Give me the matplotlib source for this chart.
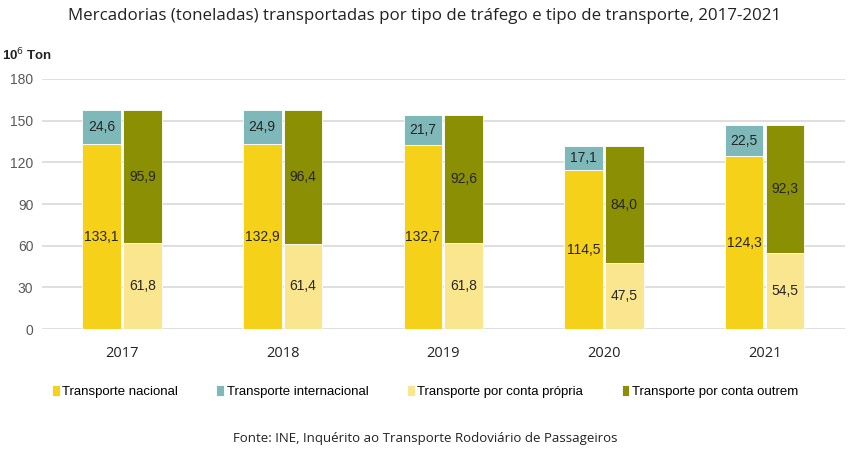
import matplotlib.pyplot as plt
import numpy as np

years = ["2017", "2018", "2019", "2020", "2021"]
nacional = [133.1, 132.9, 132.7, 114.5, 124.3]
internacional = [24.6, 24.9, 21.7, 17.1, 22.5]
propria = [61.8, 61.4, 61.8, 47.5, 54.5]
outrem = [95.9, 96.4, 92.6, 84.0, 92.3]

c_nac = "#F6D11A"
c_int = "#7FB8B9"
c_pro = "#FAE68E"
c_out = "#8B8F04"


def fmt(v):
    return f"{v:.1f}".replace(".", ",")


fig = plt.figure(figsize=(8.5, 4.54), dpi=100)
ax = fig.add_axes([0.049, 0.275, 0.945, 0.551])

x = np.arange(len(years))
w = 0.24
off = 0.127
edge = dict(edgecolor="#FFFFFF", linewidth=0.6)

ax.bar(x - off, nacional, w, color=c_nac, label="Transporte nacional", **edge)
ax.bar(x - off, internacional, w, bottom=nacional, color=c_int,
       label="Transporte internacional", **edge)
ax.bar(x + off, propria, w, color=c_pro, label="Transporte por conta própria", **edge)
ax.bar(x + off, outrem, w, bottom=propria, color=c_out,
       label="Transporte por conta outrem", **edge)

lab = dict(ha="center", va="center", fontsize=10, color="#262626",
           family="Liberation Sans")
for i in range(len(years)):
    ax.text(x[i] - off, nacional[i] / 2, fmt(nacional[i]), **lab)
    ax.text(x[i] - off, nacional[i] + internacional[i] / 2, fmt(internacional[i]), **lab)
    ax.text(x[i] + off, propria[i] / 2, fmt(propria[i]), **lab)
    ax.text(x[i] + off, propria[i] + outrem[i] / 2, fmt(outrem[i]), **lab)

ax.set_xlim(-0.5, len(years) - 0.5)
ax.set_ylim(0, 180)
ax.set_yticks(np.arange(0, 181, 30))
ax.set_xticks(x)
ax.set_xticklabels(years, fontsize=10.5, family="Open Sans", color="#222222")
ax.tick_params(axis="y", labelsize=10, labelcolor="#595959", length=0, pad=6)
ax.tick_params(axis="x", length=0, pad=12)
for lbl in ax.get_yticklabels():
    lbl.set_family("Liberation Sans")
ax.grid(axis="y", color="#D9D9D9", linewidth=1.2)
ax.set_axisbelow(True)
for s in ax.spines.values():
    s.set_visible(False)

ax.text(-0.018, 1.096, "10$^6$ Ton", transform=ax.transAxes, ha="center", va="center",
        fontsize=9.5, fontweight="bold", family="Liberation Sans", color="#222222")

fig.text(0.5, 0.965, "Mercadorias (toneladas) transportadas por tipo de tráfego e tipo de transporte, 2017-2021",
         ha="center", va="center", fontsize=12.2, family="Open Sans", color="#222222")

fig.legend(loc="center", bbox_to_anchor=(0.5, 0.137), ncol=4, frameon=False,
           prop={"family": "Liberation Sans", "size": 9.5},
           handlelength=0.6, handleheight=0.8, handletextpad=0.2, columnspacing=2.9)

fig.text(0.5, 0.035, "Fonte: INE, Inquérito ao Transporte Rodoviário de Passageiros",
         ha="center", va="center", fontsize=9.5, family="Open Sans", color="#222222")

fig.savefig("out.png", dpi=100)
